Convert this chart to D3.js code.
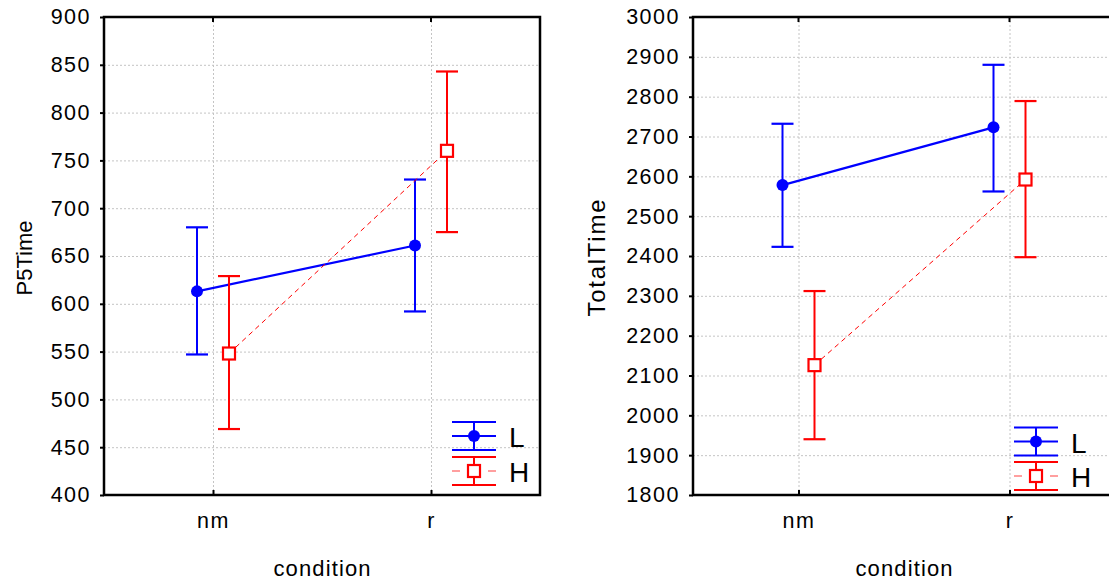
<!DOCTYPE html>
<html>
<head>
<meta charset="utf-8">
<script src="https://cdn.jsdelivr.net/npm/d3@7"></script>
<style>
  body { margin: 0; background: #fff; }
  text { font-family: "Liberation Sans", Arial, sans-serif; fill: #000; }
</style>
</head>
<body>
<svg id="chart" width="1109" height="582"></svg>
<script>
// ---- data ----
const categories = ["nm", "r"];
const seriesNames = ["L", "H"];

const p5Ticks = [400, 450, 500, 550, 600, 650, 700, 750, 800, 850, 900];
const p5L_mean = [613, 661];
const p5L_low  = [547, 592];
const p5L_high = [680, 730];
const p5H_mean = [548, 760];
const p5H_low  = [469, 675];
const p5H_high = [629, 843];

const totTicks = [1800, 1900, 2000, 2100, 2200, 2300, 2400, 2500, 2600, 2700, 2800, 2900, 3000];
const totL_mean = [2578, 2723];
const totL_low  = [2423, 2562];
const totL_high = [2732, 2880];
const totH_mean = [2126, 2592];
const totH_low  = [1940, 2397];
const totH_high = [2312, 2789];

// ---- drawing ----
const svg = d3.select("#chart");
const BLUE = "#0000ff", RED = "#ff0000";
const FONT = "Liberation Sans, Arial, sans-serif";

function panel(cfg) {
  const { left, right, top, bottom, ticks, yLabel, yLabelLen, yLabelSize, L, H, yLabelX, legendX, legendY, legendTextX } = cfg;
  const x = d3.scalePoint().domain(categories).range([left, right]).padding(0.5);
  const y = d3.scaleLinear().domain([ticks[0], ticks[ticks.length - 1]]).range([bottom, top]);
  const g = svg.append("g");
  const clipId = "clip" + left;
  svg.append("clipPath").attr("id", clipId).append("rect")
    .attr("x", left).attr("y", top).attr("width", right - left).attr("height", bottom - top);

  // grid
  const grid = g.append("g").attr("stroke", "#c4c4c4").attr("stroke-width", 1).attr("stroke-dasharray", "2,2");
  ticks.slice(1, -1).forEach(t => {
    grid.append("line").attr("x1", left).attr("x2", right).attr("y1", y(t) + 0.5).attr("y2", y(t) + 0.5);
  });
  categories.forEach(c => {
    grid.append("line").attr("x1", x(c) + 0.5).attr("x2", x(c) + 0.5).attr("y1", top).attr("y2", bottom);
  });

  // axes
  const yAxis = d3.axisLeft(y).tickValues(ticks).tickFormat(d3.format("d")).tickSize(4).tickPadding(9);
  const ya = g.append("g").attr("transform", `translate(${left},0)`).call(yAxis);
  ya.select(".domain").remove();
  ya.selectAll("line").attr("stroke", "#000").attr("stroke-width", 2);
  ya.selectAll("text").style("font-size", "21.5px").style("letter-spacing", "1.5px")
    .attr("font-family", FONT).attr("fill", "#000");

  const xAxis = d3.axisBottom(x).tickSize(-5).tickPadding(18);
  const xa = g.append("g").attr("transform", `translate(0,${bottom})`).call(xAxis);
  xa.select(".domain").remove();
  xa.selectAll("line").attr("stroke", "#000").attr("stroke-width", 2);
  xa.selectAll("text").style("font-size", "21.5px").style("letter-spacing", "1.5px")
    .attr("font-family", FONT).attr("fill", "#000");

  categories.forEach(c => {
    g.append("line").attr("x1", x(c)).attr("x2", x(c)).attr("y1", top).attr("y2", top + 5).attr("stroke", "#000").attr("stroke-width", 2);
  });

  // frame
  g.append("rect").attr("x", left).attr("y", top).attr("width", right - left).attr("height", bottom - top)
    .attr("fill", "none").attr("stroke", "#000").attr("stroke-width", 2.5);

  // titles
  g.append("text").attr("transform", `translate(${yLabelX},${(top + bottom) / 2 + 2}) rotate(-90)`)
    .attr("text-anchor", "middle").style("font-size", yLabelSize + "px")
    .attr("textLength", yLabelLen).attr("lengthAdjust", "spacing").text(yLabel);
  g.append("text").attr("x", (left + right) / 2).attr("y", 576)
    .attr("text-anchor", "middle").style("font-size", "22px")
    .attr("textLength", 97).attr("lengthAdjust", "spacing").text("condition");

  const off = 16, cap = 11;
  const plot = g.append("g").attr("clip-path", `url(#${clipId})`);

  function series(s, dx, color, solid) {
    const pts = categories.map((c, i) => ({ x: x(c) + dx, m: s.mean[i], lo: s.low[i], hi: s.high[i] }));
    const line = d3.line().x(d => d.x).y(d => y(d.m));
    plot.append("path").datum(pts).attr("d", line).attr("fill", "none").attr("stroke", color)
      .attr("stroke-width", solid ? 2.2 : 1).attr("stroke-dasharray", solid ? null : "5,4");
    pts.forEach(d => {
      plot.append("line").attr("x1", d.x).attr("x2", d.x).attr("y1", y(d.lo)).attr("y2", y(d.hi)).attr("stroke", color).attr("stroke-width", 2);
      [d.lo, d.hi].forEach(v => {
        plot.append("line").attr("x1", d.x - cap).attr("x2", d.x + cap).attr("y1", y(v)).attr("y2", y(v)).attr("stroke", color).attr("stroke-width", 2.2);
      });
    });
    pts.forEach(d => {
      if (solid) {
        plot.append("circle").attr("cx", d.x).attr("cy", y(d.m)).attr("r", 6).attr("fill", color);
      } else {
        plot.append("rect").attr("x", d.x - 6).attr("y", y(d.m) - 6).attr("width", 12).attr("height", 12)
          .attr("fill", "#fff").attr("stroke", color).attr("stroke-width", 2.2);
      }
    });
  }
  series(L, -off, BLUE, true);
  series(H, off, RED, false);

  // legend
  const lg = g.append("g");
  const half = 22;
  [[seriesNames[0], BLUE, true, legendY[0]], [seriesNames[1], RED, false, legendY[1]]].forEach(([name, color, solid, cy]) => {
    lg.append("line").attr("x1", legendX).attr("x2", legendX).attr("y1", cy - 14).attr("y2", cy + 14).attr("stroke", color).attr("stroke-width", 2);
    [cy - 14, cy + 14].forEach(yy => lg.append("line").attr("x1", legendX - half).attr("x2", legendX + half).attr("y1", yy).attr("y2", yy).attr("stroke", color).attr("stroke-width", 2.2));
    if (solid) {
      lg.append("line").attr("x1", legendX - half).attr("x2", legendX + half).attr("y1", cy).attr("y2", cy).attr("stroke", color).attr("stroke-width", 2.2);
      lg.append("circle").attr("cx", legendX).attr("cy", cy).attr("r", 6).attr("fill", color);
    } else {
      lg.append("line").attr("x1", legendX - half).attr("x2", legendX - 14).attr("y1", cy).attr("y2", cy).attr("stroke", "#ff6060").attr("stroke-width", 1.2);
      lg.append("line").attr("x1", legendX + 14).attr("x2", legendX + half).attr("y1", cy).attr("y2", cy).attr("stroke", "#ff6060").attr("stroke-width", 1.2);
      lg.append("rect").attr("x", legendX - 6).attr("y", cy - 6).attr("width", 12).attr("height", 12)
        .attr("fill", "#fff").attr("stroke", color).attr("stroke-width", 2.2);
    }
    lg.append("text").attr("x", legendTextX).attr("y", cy + 11).style("font-size", "28px").text(name);
  });
}

panel({
  left: 104, right: 540, top: 17, bottom: 495, ticks: p5Ticks, yLabel: "P5Time", yLabelLen: 75, yLabelSize: 22,
  L: { mean: p5L_mean, low: p5L_low, high: p5L_high },
  H: { mean: p5H_mean, low: p5H_low, high: p5H_high },
  yLabelX: 32, legendX: 474, legendY: [436, 471], legendTextX: 509
});
panel({
  left: 693, right: 1115, top: 17, bottom: 495, ticks: totTicks, yLabel: "TotalTime", yLabelLen: 117, yLabelSize: 24,
  L: { mean: totL_mean, low: totL_low, high: totL_high },
  H: { mean: totH_mean, low: totH_low, high: totH_high },
  yLabelX: 605, legendX: 1036, legendY: [441.5, 476], legendTextX: 1071
});
</script>
</body>
</html>
